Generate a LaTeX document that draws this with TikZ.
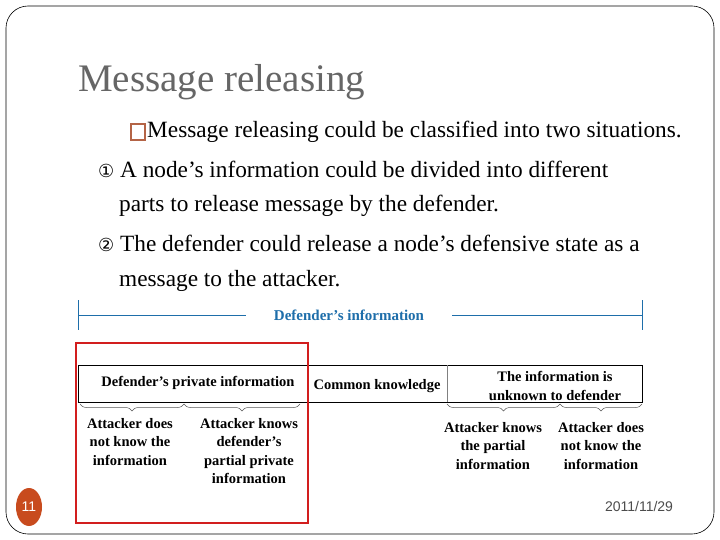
\documentclass[tikz,border=0pt]{standalone}
\usepackage{fontspec}
\setmainfont{Liberation Serif}
\newfontfamily\sansf{Liberation Sans}
\newfontfamily\symf{DejaVu Sans}
\usetikzlibrary{decorations.pathreplacing}
\definecolor{bluetxt}{RGB}{30,110,170}
\definecolor{redbox}{RGB}{210,30,30}
\definecolor{orng}{RGB}{200,75,30}
\definecolor{bul}{RGB}{180,100,70}
\begin{document}
\begin{tikzpicture}[x=1pt,y=-1pt,
  body/.style={anchor=west,inner sep=0pt,font=\fontsize{23.3}{26}\selectfont},
  small/.style={font=\bfseries\fontsize{14.5}{18.5}\selectfont,align=center,inner sep=0pt},
  brc/.style={decorate,decoration={brace,amplitude=7pt,mirror},gray!70!black,line width=0.5pt}]
\useasboundingbox (0,0) rectangle (720,540);
\fill[white] (0,0) rectangle (720,540);
\draw[line width=0.6pt,rounded corners=22pt] (6,6) rectangle (714,534);
\node[anchor=west,inner sep=0pt,text=black!60,font=\fontsize{39}{42}\selectfont] (title) at (78,82) {Message releasing};
\node[body] (b0) at (147,132) {Message releasing could be classified into two situations.};
\draw[bul,line width=1.2pt] (131,124) rectangle (145,140);
\node[body] (b1) at (98,169) {{\symf\fontsize{18}{20}\selectfont ①} A node’s information could be divided into different};
\node[body] (b2) at (119,206) {parts to release message by the defender.};
\node[body] (b3) at (98,243) {{\symf\fontsize{18}{20}\selectfont ②} The defender could release a node’s defensive state as a};
\node[body] (b4) at (119,281) {message to the attacker.};
% defender's information bracket
\coordinate (L) at (78,315); \coordinate (R) at (642,315);
\node[text=bluetxt,font=\bfseries\fontsize{15}{17}\selectfont] (di) at (349,315) {Defender's information};
\draw[bluetxt,line width=0.6pt] (78,300) -- (78,330) (642,300) -- (642,330);
\draw[bluetxt,line width=0.6pt] (L) -- (246,315) (452,315) -- (R);
% main box
\draw[line width=0.6pt] (78,365) rectangle (642,402);
\draw[gray,line width=0.5pt] (447,365) -- (447,402);
\node[small] (p1) at (198,383) {Defender's private information};
\node[small] (p2) at (377,386) {Common knowledge};
\node[small] (p3) at (555,386) {The information is\\unknown to defender};
% braces
\draw[brc] (80,404) -- (184,404);
\draw[brc] (184,404) -- (300,404);
\draw[brc] (447,404) -- (560,404);
\draw[brc] (560,404) -- (642,404);
\node[small,anchor=north] (t1) at (130,418) {Attacker does\\not know the\\information};
\node[small,anchor=north] (t2) at (249,418) {Attacker knows\\defender's\\partial private\\information};
\node[small,anchor=north] (t3) at (493,422) {Attacker knows\\the partial\\information};
\node[small,anchor=north] (t4) at (601,422) {Attacker does\\not know the\\information};
% red box
\draw[redbox,line width=2pt] (76,343) rectangle (308,523);
% footer
\fill[orng] (29,507) ellipse (13 and 19);
\node[text=white,font=\sansf\fontsize{14}{16}\selectfont] (pg) at (29,507) {11};
\node[text=black!70,font=\sansf\fontsize{14}{16}\selectfont] (dt) at (639,506) {2011/11/29};
\end{tikzpicture}
\end{document}
